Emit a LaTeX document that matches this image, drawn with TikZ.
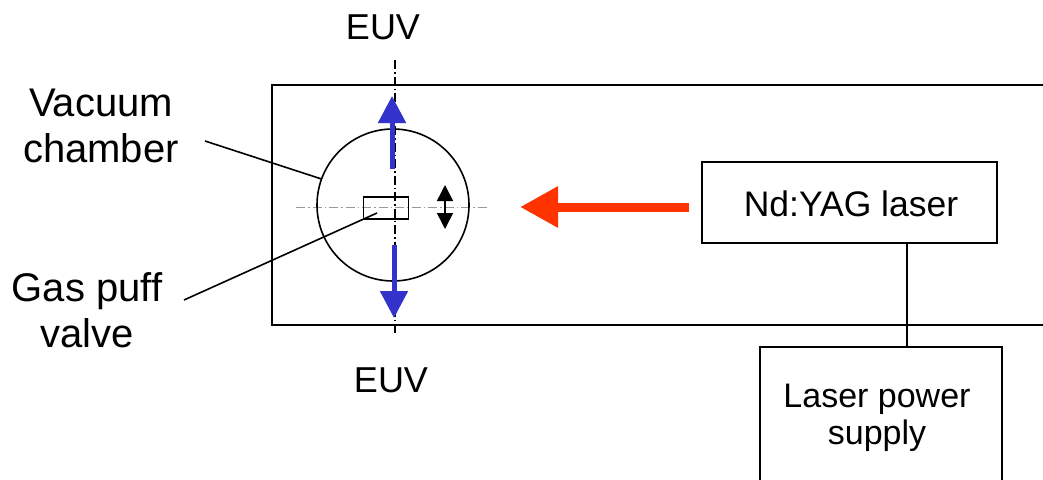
\documentclass[tikz,border=0pt]{standalone}
\usepackage{fontspec}
\setmainfont{Liberation Sans}
\usetikzlibrary{arrows.meta,calc}
\definecolor{euvblue}{HTML}{3333CC}
\definecolor{laserred}{HTML}{FF3300}
\definecolor{axisgray}{HTML}{999999}
\tikzset{
  box/.style={draw=black, line width=1.8pt, inner sep=0pt, outer sep=0pt, fill=none},
  lbl/.style={inner sep=0pt, align=center, font=\fontsize{36}{45}\selectfont},
  sidelbl/.style={lbl, font=\fontsize{40}{46}\selectfont},
  lead/.style={draw=black, line width=1.6pt},
  dashdot/.style={line width=1.2pt, dash pattern=on 9pt off 3pt on 1.5pt off 3pt},
  euvarrow/.style={euvblue, line width=5pt, -{Triangle[width=27pt,length=27pt]}},
}
\begin{document}
\begin{tikzpicture}[x=1pt,y=-1pt]
\clip (0,0) rectangle (1043,479);
\fill[white] (0,0) rectangle (1043,479);

% vacuum chamber outline
\node[box, minimum width=828pt, minimum height=240pt] (chamber) at (686,205) {};

% axes
\coordinate (vtop) at (395,60);
\coordinate (vbot) at (395,336);
\draw[dashdot, black] (vtop) -- (vbot);
\coordinate (hl) at (296,207);
\coordinate (hr) at (489,207);
\draw[dashdot, axisgray, line width=1pt] (hl) -- (hr);

% target circle and valve
\node[draw=black, line width=1.6pt, circle, minimum size=152pt, inner sep=0pt, outer sep=0pt] (target) at (393,205) {};
\node[box, line width=1.8pt, minimum width=45pt, minimum height=22pt] (valve) at (386,208) {};

% EUV arrows
\coordinate (upS) at (392,169);
\coordinate (upE) at (392,96);
\coordinate (dnS) at (394,245);
\coordinate (dnE) at (394,318);
\draw[euvarrow] (upS) -- (upE);
\draw[euvarrow] (dnS) -- (dnE);

% small double arrow
\coordinate (daT) at (445,185);
\coordinate (daB) at (445,229);
\draw[line width=1.5pt, {Triangle[width=16pt,length=16pt]}-{Triangle[width=16pt,length=16pt]}] (daT) -- (daB);

% laser
\node[box, minimum width=295pt, minimum height=81pt] (laser) at (849.5,202.5) {};
\node[lbl, font=\fontsize{35.5}{40}\selectfont, anchor=base] (lasertxt) at (851,216) {Nd:YAG laser};
\coordinate (redS) at (laser.west);
\coordinate (redE) at (520,207);
\draw[laserred, line width=9pt, -{Triangle[width=39pt,length=38pt]}] ($(redS)+(-13,4.5)$) -- (redE);

% power supply
\node[box, minimum width=242pt, minimum height=160pt, anchor=north] (psu) at (881,347) {};
\node[lbl, font=\fontsize{34}{37}\selectfont, anchor=base] (psutxt) at (877,444) {Laser power\\supply};
\coordinate (cx) at (907,0);
\draw[black, line width=1.6pt] (laser.south -| cx) -- (psu.north -| cx);

% labels
\node[lbl, anchor=base] (euvtop) at (383,39) {EUV};
\node[lbl, anchor=base] (euvbot) at (391,392) {EUV};
\node[sidelbl, anchor=base] (vactxt) at (101,162) {Vacuum\\chamber};
\node[sidelbl, anchor=base] (gastxt) at (87,347) {Gas puff\\valve};

% leaders
\coordinate (vacL) at (205,141);
\coordinate (gasL) at (184,300);
\draw[lead] (vacL) -- (target.160);
\draw[lead] (gasL) -- ($(valve.center)+(-9,5)$);
\end{tikzpicture}
\end{document}
